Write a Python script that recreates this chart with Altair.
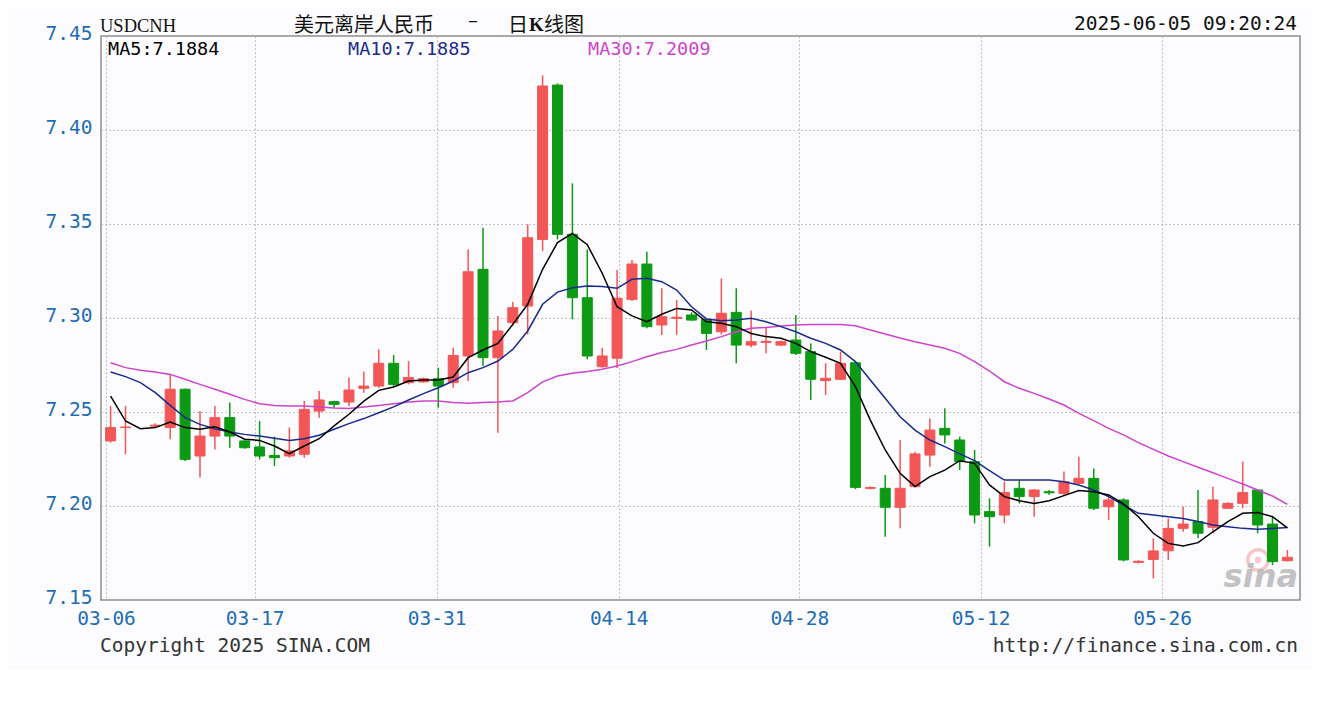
import altair as alt
import pandas as pd

# ---------------- data ----------------
DATES = [
    "03-05", "03-06", "03-07", "03-08", "03-10", "03-11", "03-12", "03-13", "03-14", "03-15",
    "03-17", "03-18", "03-19", "03-20", "03-21", "03-22", "03-24", "03-25", "03-26", "03-27",
    "03-28", "03-29", "03-31", "04-01", "04-02", "04-03", "04-04", "04-05", "04-07", "04-08",
    "04-09", "04-10", "04-11", "04-12", "04-14", "04-15", "04-16", "04-17", "04-18", "04-19",
    "04-21", "04-22", "04-23", "04-24", "04-25", "04-26", "04-28", "04-29", "04-30", "05-01",
    "05-02", "05-03", "05-05", "05-06", "05-07", "05-08", "05-09", "05-10", "05-12", "05-13",
    "05-14", "05-15", "05-16", "05-17", "05-19", "05-20", "05-21", "05-22", "05-23", "05-24",
    "05-26", "05-27", "05-28", "05-29", "05-30", "05-31", "06-02", "06-03", "06-04", "06-05",
]

OPEN = [
    7.2346, 7.2417, None, 7.2425, 7.2417, 7.2621, 7.2266, 7.2372, 7.2470, 7.2346,
    7.2314, 7.2269, 7.2266, 7.2275, 7.2505, 7.2555, 7.2553, 7.2626, 7.2638, 7.2759,
    7.2656, 7.2660, 7.2677, 7.2656, 7.2798, 7.3259, 7.2789, 7.2975, 7.3064, 7.3418,
    7.4239, 7.3445, 7.3108, 7.2741, 7.2786, 7.3099, 7.3287, 7.2963, 7.2998, 7.3016,
    7.2993, 7.2927, 7.3030, 7.2856, 7.2870, 7.2856, 7.2883, 7.2821, 7.2667, 7.2674,
    7.2762, 7.2094, 7.2094, 7.1993, 7.2103, 7.2271, 7.2413, 7.2351, 7.2236, 7.1970,
    7.1952, 7.2094, 7.2050, 7.2076, 7.2067, 7.2121, 7.2147, 7.1996, 7.2032, 7.1700,
    7.1716, 7.1762, 7.1881, 7.1917, 7.1887, 7.1988, 7.2014, 7.2085, 7.1904, 7.1709,
]
HIGH = [
    7.2532, 7.2532, None, 7.2440, 7.2700, 7.2625, 7.2505, 7.2532, 7.2550, 7.2350,
    7.2452, 7.2369, 7.2417, 7.2559, 7.2612, 7.2560, 7.2683, 7.2715, 7.2833, 7.2803,
    7.2771, 7.2683, 7.2736, 7.2842, 7.3365, 7.3480, 7.3011, 7.3085, 7.3498, 7.4291,
    7.4248, 7.3716, 7.3365, 7.2840, 7.3255, 7.3309, 7.3353, 7.3158, 7.3096, 7.3030,
    7.2998, 7.3211, 7.3158, 7.3040, 7.2954, 7.2880, 7.3016, 7.2865, 7.2759, 7.2821,
    7.2768, 7.2105, 7.2165, 7.2351, 7.2289, 7.2466, 7.2520, 7.2369, 7.2298, 7.2041,
    7.2129, 7.2138, 7.2090, 7.2085, 7.2183, 7.2262, 7.2200, 7.2060, 7.2041, 7.1712,
    7.1828, 7.1934, 7.1996, 7.2085, 7.2103, 7.2020, 7.2236, 7.2090, 7.1943, 7.1766,
]
LOW = [
    7.2337, 7.2275, None, 7.2420, 7.2355, 7.2240, 7.2151, 7.2301, 7.2310, 7.2305,
    7.2248, 7.2213, 7.2257, 7.2257, 7.2470, 7.2523, 7.2532, 7.2603, 7.2629, 7.2638,
    7.2647, 7.2656, 7.2523, 7.2629, 7.2665, 7.2745, 7.2390, 7.2957, 7.2913, 7.3356,
    7.3418, 7.2993, 7.2780, 7.2735, 7.2734, 7.3090, 7.2945, 7.2910, 7.2910, 7.2985,
    7.2830, 7.2912, 7.2759, 7.2845, 7.2812, 7.2850, 7.2803, 7.2564, 7.2590, 7.2670,
    7.2090, 7.2088, 7.1837, 7.1881, 7.2100, 7.2209, 7.2333, 7.2191, 7.1908, 7.1784,
    7.1908, 7.2014, 7.1943, 7.2060, 7.2058, 7.2115, 7.1979, 7.1926, 7.1705, 7.1695,
    7.1615, 7.1713, 7.1863, 7.1828, 7.1855, 7.1985, 7.1988, 7.1855, 7.1686, 7.1705,
]
CLOSE = [
    7.2417, 7.2420, None, 7.2430, 7.2621, 7.2248, 7.2372, 7.2470, 7.2372, 7.2310,
    7.2266, 7.2257, 7.2293, 7.2514, 7.2564, 7.2541, 7.2617, 7.2638, 7.2759, 7.2647,
    7.2683, 7.2677, 7.2638, 7.2801, 7.3246, 7.2789, 7.2931, 7.3055, 7.3427, 7.4234,
    7.3445, 7.3108, 7.2798, 7.2798, 7.3105, 7.3287, 7.2954, 7.3007, 7.3004, 7.2989,
    7.2918, 7.3025, 7.2856, 7.2874, 7.2876, 7.2874, 7.2812, 7.2674, 7.2679, 7.2759,
    7.2099, 7.2098, 7.1993, 7.2094, 7.2277, 7.2404, 7.2378, 7.2236, 7.1952, 7.1943,
    7.2071, 7.2050, 7.2085, 7.2070, 7.2129, 7.2147, 7.1988, 7.2032, 7.1713, 7.1706,
    7.1761, 7.1881, 7.1904, 7.1855, 7.2032, 7.2014, 7.2071, 7.1899, 7.1704, 7.1727,
]
MA5 = [
    7.2585, 7.2452, 7.2411, 7.2417, 7.2447, 7.2417, 7.2408, 7.2422, 7.2394, 7.2355,
    7.2349, 7.2319, 7.2278, 7.2319, 7.2358, 7.2426, 7.2488, 7.2558, 7.2615, 7.2633,
    7.2665, 7.2670, 7.2670, 7.2686, 7.2789, 7.2830, 7.2865, 7.2966, 7.3073, 7.3259,
    7.3401, 7.3450, 7.3390, 7.3238, 7.3060, 7.3011, 7.2980, 7.3020, 7.3051, 7.3043,
    7.2980, 7.2972, 7.2954, 7.2918, 7.2901, 7.2892, 7.2865, 7.2821, 7.2791, 7.2759,
    7.2635, 7.2457, 7.2298, 7.2174, 7.2103, 7.2156, 7.2191, 7.2241, 7.2227, 7.2112,
    7.2050, 7.2028, 7.2014, 7.2028, 7.2055, 7.2082, 7.2076, 7.2059, 7.2011, 7.1943,
    7.1855, 7.1801, 7.1787, 7.1805, 7.1863, 7.1917, 7.1961, 7.1965, 7.1943, 7.1884,
]
MA10 = [
    7.2713, 7.2688, 7.2656, 7.2603, 7.2535, 7.2470, 7.2434, 7.2411, 7.2394, 7.2381,
    7.2372, 7.2360, 7.2349, 7.2358, 7.2376, 7.2408, 7.2438, 7.2465, 7.2496, 7.2527,
    7.2564, 7.2598, 7.2629, 7.2665, 7.2709, 7.2736, 7.2771, 7.2833, 7.2931, 7.3073,
    7.3138, 7.3161, 7.3170, 7.3167, 7.3158, 7.3206, 7.3211, 7.3193, 7.3149, 7.3060,
    7.2995, 7.2985, 7.2990, 7.2998, 7.2980, 7.2954, 7.2927, 7.2892, 7.2865, 7.2830,
    7.2768, 7.2670, 7.2573, 7.2475, 7.2404, 7.2351, 7.2316, 7.2277, 7.2241, 7.2188,
    7.2138, 7.2138, 7.2138, 7.2138, 7.2129, 7.2112, 7.2085, 7.2050, 7.2005, 7.1961,
    7.1952, 7.1943, 7.1934, 7.1917, 7.1899, 7.1890, 7.1881, 7.1876, 7.1880, 7.1885,
]
MA30 = [
    7.2762, 7.2736, 7.2722, 7.2713, 7.2700, 7.2674, 7.2647, 7.2621, 7.2594, 7.2567,
    7.2544, 7.2535, 7.2532, 7.2532, 7.2527, 7.2521, 7.2518, 7.2527, 7.2535, 7.2544,
    7.2553, 7.2559, 7.2559, 7.2550, 7.2546, 7.2550, 7.2553, 7.2559, 7.2603, 7.2660,
    7.2691, 7.2706, 7.2715, 7.2727, 7.2745, 7.2768, 7.2794, 7.2816, 7.2833, 7.2856,
    7.2878, 7.2901, 7.2927, 7.2945, 7.2950, 7.2958, 7.2963, 7.2965, 7.2966, 7.2966,
    7.2959, 7.2936, 7.2915, 7.2894, 7.2874, 7.2856, 7.2839, 7.2812, 7.2768, 7.2718,
    7.2661, 7.2626, 7.2599, 7.2569, 7.2537, 7.2493, 7.2454, 7.2413, 7.2378, 7.2337,
    7.2301, 7.2266, 7.2236, 7.2206, 7.2177, 7.2147, 7.2117, 7.2085, 7.2053, 7.2009,
]

X_LABELS = ["03-06", "03-17", "03-31", "04-14", "04-28", "05-12", "05-26"]
Y_TICKS = [7.15, 7.20, 7.25, 7.30, 7.35, 7.40, 7.45]

SYMBOL = "USDCNH"
TITLE_LEFT = "美元离岸人民币"
TITLE_DASH = "–"
TITLE_MID = "日"
TITLE_K = "K"
TITLE_RIGHT = "线图"
STAMP = "2025-06-05 09:20:24"
MA5_TEXT = "MA5:7.1884"
MA10_TEXT = "MA10:7.1885"
MA30_TEXT = "MA30:7.2009"
COPYRIGHT = "Copyright 2025 SINA.COM"
URL = "http://finance.sina.com.cn"
WATERMARK = "sina"

# ---------------- layout / style config ----------------
X_TICK_POS = [-0.31, 9.67, 21.89, 34.11, 46.23, 58.41, 70.59]
X_DOMAIN = [-0.31, 79.51]
Y_DOMAIN = [7.15, 7.45]
W, H = 1199, 564

MONO = "DejaVu Sans Mono"
CJK = "Noto Sans CJK SC"
BLUE = "#1f6db5"
RED = "#f25656"
GREEN = "#0c9a14"
C_MA5 = "#000000"
C_MA10 = "#1a2a8c"
C_MA30 = "#cc44cc"
GRID = "#b0b0b0"
LOGO_PINK = "#f08a8a"

df = pd.DataFrame({
    "date": DATES, "slot": list(range(len(DATES))),
    "open": OPEN, "high": HIGH, "low": LOW, "close": CLOSE,
    "ma5": MA5, "ma10": MA10, "ma30": MA30,
})
candles = df.dropna(subset=["open"]).copy()
candles["dir"] = ["up" if c >= o else "down" for o, c in zip(candles["open"], candles["close"])]

label_expr = ("[" + ",".join(f"'{s}'" for s in X_LABELS) + "][indexof(["
              + ",".join(str(t) for t in X_TICK_POS) + "], datum.value)]")

xs = alt.Scale(domain=X_DOMAIN, nice=False, zero=False)
ys = alt.Scale(domain=Y_DOMAIN, nice=False, zero=False)

x_axis = alt.Axis(values=X_TICK_POS, labelExpr=label_expr, title=None, grid=True,
                  gridColor=GRID, gridDash=[1.5, 2.5], gridWidth=1, domain=False, ticks=False,
                  labelFlush=False, labelOverlap=False, labelPadding=9, labelFont=MONO,
                  labelFontSize=19.5, labelColor=BLUE, labelBaseline="top")
y_axis = alt.Axis(values=Y_TICKS, format=".2f", title=None, grid=True, gridColor=GRID,
                  gridDash=[1.5, 2.5], gridWidth=1, domain=False, ticks=False,
                  labelFlush=False, labelOverlap=False, labelPadding=9, labelFont=MONO,
                  labelFontSize=19.5, labelColor=BLUE, labelOffset=-3)


def X():
    return alt.X("slot:Q", scale=xs, axis=x_axis)


def Y(field):
    return alt.Y(f"{field}:Q", scale=ys, axis=y_axis)


color = alt.Color("dir:N", scale=alt.Scale(domain=["up", "down"], range=[RED, GREEN]), legend=None)

base = alt.Chart(candles)
wicks = base.mark_rule(strokeWidth=1.5).encode(x=X(), y=Y("low"), y2="high:Q", color=color)
bodies = base.mark_bar(size=10, strokeWidth=1).encode(
    x=X(), y=Y("open"), y2="close:Q", color=color, stroke=color)


def ma_line(field, col):
    return alt.Chart(df).mark_line(color=col, strokeWidth=1.5, clip=True).encode(x=X(), y=Y(field))


def txt(s, x, y, font=MONO, size=19.5, col="#111111", align="left", **kw):
    return alt.Chart(pd.DataFrame({"t": [s]})).mark_text(
        font=font, fontSize=size, color=col, align=align, baseline="alphabetic", **kw
    ).encode(text="t:N", x=alt.value(x), y=alt.value(y))


def logo_part(size, filled, sw):
    return alt.Chart(pd.DataFrame({"t": [WATERMARK]})).mark_point(
        shape="circle", filled=filled, size=size, strokeWidth=sw,
        color=LOGO_PINK, opacity=0.45,
    ).encode(x=alt.value(1157), y=alt.value(524))


layers = [
    logo_part(420, False, 3.5), logo_part(40, True, 1),
    txt(WATERMARK, 1197, 551, font="DejaVu Sans", size=32, col="#b8b8b8", align="right",
        fontStyle="italic", fontWeight="bold", opacity=0.85),
    wicks, bodies,
    ma_line("ma30", C_MA30), ma_line("ma10", C_MA10), ma_line("ma5", C_MA5),
    txt(SYMBOL, -1, -4.5, font="Liberation Serif", size=18.5, col="#111111"),
    txt(TITLE_LEFT, 193, -4.5, font=CJK, size=20, col="#111111"),
    txt(TITLE_DASH, 372, -9, font="DejaVu Sans", size=20, col="#111111", align="center"),
    txt(TITLE_MID, 407, -4.5, font=CJK, size=20, col="#111111"),
    txt(TITLE_K, 428, -5, font="Liberation Serif", size=19, col="#111111", fontWeight="bold"),
    txt(TITLE_RIGHT, 443, -4.5, font=CJK, size=20, col="#111111"),
    txt(STAMP, 1196, -6, col="#111111", align="right"),
    txt(MA5_TEXT, 7, 19, size=18.5, col=C_MA5),
    txt(MA10_TEXT, 247, 19, size=18.5, col=C_MA10),
    txt(MA30_TEXT, 487, 19, size=18.5, col=C_MA30),
    txt(COPYRIGHT, -1, 616, col="#333333"),
    txt(URL, 1197, 616, col="#333333", align="right"),
]

chart = alt.layer(*layers).properties(
    width=W, height=H,
    autosize=alt.AutoSizeParams(type="none"),
    padding={"left": 93, "top": 28, "right": 12, "bottom": 70},
    background="#fcfcfe",
).configure_view(stroke="#8c8c8c", strokeWidth=1.5, fill="#fcfcfe")

chart.save("out.html", embed_options={"renderer": "svg", "actions": False})
